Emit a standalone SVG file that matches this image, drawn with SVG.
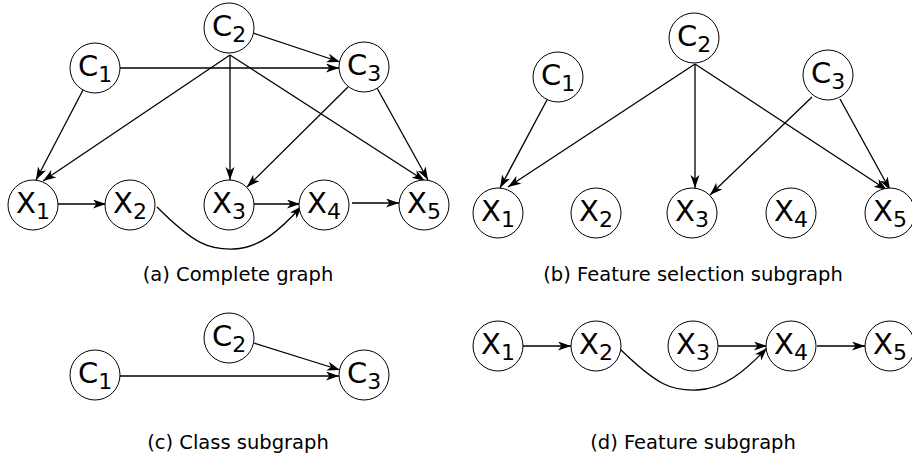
<svg xmlns="http://www.w3.org/2000/svg" width="912" height="460" viewBox="0 0 912 460">
<style>
.n circle{fill:#fff;stroke:#000;stroke-width:1}
.n text{font-family:"DejaVu Sans",sans-serif;font-size:29px;text-anchor:middle;fill:#000}
.n tspan.s{font-size:22px}
.e{fill:none;stroke:#000;stroke-width:1.3;marker-end:url(#ah)}
.cap{font-family:"DejaVu Sans",sans-serif;font-size:19.5px;text-anchor:middle;fill:#000}
</style>
<defs>
<marker id="ah" markerUnits="userSpaceOnUse" markerWidth="14" markerHeight="10" refX="13" refY="4.5" orient="auto">
<path d="M13,4.5 L0,0 L3.5,4.5 L0,9 z" fill="#000"/>
</marker>
</defs>
<rect width="912" height="460" fill="#fff"/>

<g id="connectors">
<!-- (a) -->
<line class="e" x1="83" y1="90" x2="36" y2="180"/>
<line class="e" x1="230" y1="55" x2="43" y2="181"/>
<line class="e" x1="253" y1="33" x2="340" y2="62"/>
<line class="e" x1="119" y1="68" x2="339" y2="68"/>
<line class="e" x1="230" y1="55" x2="230" y2="180"/>
<line class="e" x1="230" y1="55" x2="425" y2="181"/>
<line class="e" x1="348" y1="87" x2="247" y2="187"/>
<line class="e" x1="377" y1="88" x2="428" y2="180"/>
<line class="e" x1="58" y1="204" x2="106" y2="204"/>
<line class="e" x1="254" y1="204" x2="300" y2="204"/>
<line class="e" x1="352" y1="203" x2="399" y2="203"/>
<path class="e" d="M157,207 C195,245 210,250 234,249 C260,248 280,230 302,206"/>
<!-- (b) -->
<line class="e" x1="548" y1="98" x2="500" y2="188"/>
<line class="e" x1="695" y1="64" x2="508" y2="187"/>
<line class="e" x1="695" y1="64" x2="695" y2="188"/>
<line class="e" x1="695" y1="64" x2="887" y2="190"/>
<line class="e" x1="812" y1="97" x2="710" y2="195"/>
<line class="e" x1="840" y1="99" x2="890" y2="190"/>
<!-- (c) -->
<line class="e" x1="119" y1="376" x2="339" y2="376"/>
<line class="e" x1="254" y1="343" x2="340" y2="370"/>
<!-- (d) -->
<line class="e" x1="523" y1="346" x2="571" y2="346"/>
<line class="e" x1="718" y1="346" x2="767" y2="346"/>
<line class="e" x1="817" y1="346" x2="865" y2="346"/>
<path class="e" d="M620,349 C658,386 672,391 697,390 C724,389 745,371 767,348"/>
</g>

<!-- (a) nodes -->
<g id="a_C1" class="n"><circle cx="95" cy="68" r="25"/><text x="95" y="76">C<tspan class="s" dy="6">1</tspan></text></g>
<g id="a_C2" class="n"><circle cx="229" cy="28" r="25"/><text x="229" y="36">C<tspan class="s" dy="6">2</tspan></text></g>
<g id="a_C3" class="n"><circle cx="364" cy="67" r="25"/><text x="364" y="75">C<tspan class="s" dy="6">3</tspan></text></g>
<g id="a_X1" class="n"><circle cx="33" cy="205" r="25"/><text x="33" y="213">X<tspan class="s" dy="6">1</tspan></text></g>
<g id="a_X2" class="n"><circle cx="130" cy="205" r="25"/><text x="130" y="213">X<tspan class="s" dy="6">2</tspan></text></g>
<g id="a_X3" class="n"><circle cx="229" cy="205" r="25"/><text x="229" y="213">X<tspan class="s" dy="6">3</tspan></text></g>
<g id="a_X4" class="n"><circle cx="324" cy="205" r="25"/><text x="324" y="213">X<tspan class="s" dy="6">4</tspan></text></g>
<g id="a_X5" class="n"><circle cx="424" cy="205" r="25"/><text x="424" y="213">X<tspan class="s" dy="6">5</tspan></text></g>

<!-- (b) nodes -->
<g id="b_C1" class="n"><circle cx="558" cy="77" r="25"/><text x="558" y="85">C<tspan class="s" dy="6">1</tspan></text></g>
<g id="b_C2" class="n"><circle cx="694" cy="38" r="25"/><text x="694" y="46">C<tspan class="s" dy="6">2</tspan></text></g>
<g id="b_C3" class="n"><circle cx="828" cy="75" r="25"/><text x="828" y="83">C<tspan class="s" dy="6">3</tspan></text></g>
<g id="b_X1" class="n"><circle cx="498" cy="213" r="25"/><text x="498" y="221">X<tspan class="s" dy="6">1</tspan></text></g>
<g id="b_X2" class="n"><circle cx="596" cy="213" r="25"/><text x="596" y="221">X<tspan class="s" dy="6">2</tspan></text></g>
<g id="b_X3" class="n"><circle cx="692" cy="213" r="25"/><text x="692" y="221">X<tspan class="s" dy="6">3</tspan></text></g>
<g id="b_X4" class="n"><circle cx="791" cy="213" r="25"/><text x="791" y="221">X<tspan class="s" dy="6">4</tspan></text></g>
<g id="b_X5" class="n"><circle cx="890" cy="213" r="25"/><text x="890" y="221">X<tspan class="s" dy="6">5</tspan></text></g>

<!-- (c) nodes -->
<g id="c_C1" class="n"><circle cx="95" cy="375" r="25"/><text x="95" y="383">C<tspan class="s" dy="6">1</tspan></text></g>
<g id="c_C2" class="n"><circle cx="229" cy="338" r="25"/><text x="229" y="346">C<tspan class="s" dy="6">2</tspan></text></g>
<g id="c_C3" class="n"><circle cx="364" cy="375" r="25"/><text x="364" y="383">C<tspan class="s" dy="6">3</tspan></text></g>

<!-- (d) nodes -->
<g id="d_X1" class="n"><circle cx="498" cy="346" r="25"/><text x="498" y="354">X<tspan class="s" dy="6">1</tspan></text></g>
<g id="d_X2" class="n"><circle cx="596" cy="346" r="25"/><text x="596" y="354">X<tspan class="s" dy="6">2</tspan></text></g>
<g id="d_X3" class="n"><circle cx="693" cy="346" r="25"/><text x="693" y="354">X<tspan class="s" dy="6">3</tspan></text></g>
<g id="d_X4" class="n"><circle cx="791" cy="346" r="25"/><text x="791" y="354">X<tspan class="s" dy="6">4</tspan></text></g>
<g id="d_X5" class="n"><circle cx="890" cy="346" r="25"/><text x="890" y="354">X<tspan class="s" dy="6">5</tspan></text></g>

<g id="captions">
<text class="cap" x="238" y="281">(a) Complete graph</text>
<text class="cap" x="693" y="281">(b) Feature selection subgraph</text>
<text class="cap" x="238" y="449">(c) Class subgraph</text>
<text class="cap" x="693" y="449">(d) Feature subgraph</text>
</g>
</svg>
